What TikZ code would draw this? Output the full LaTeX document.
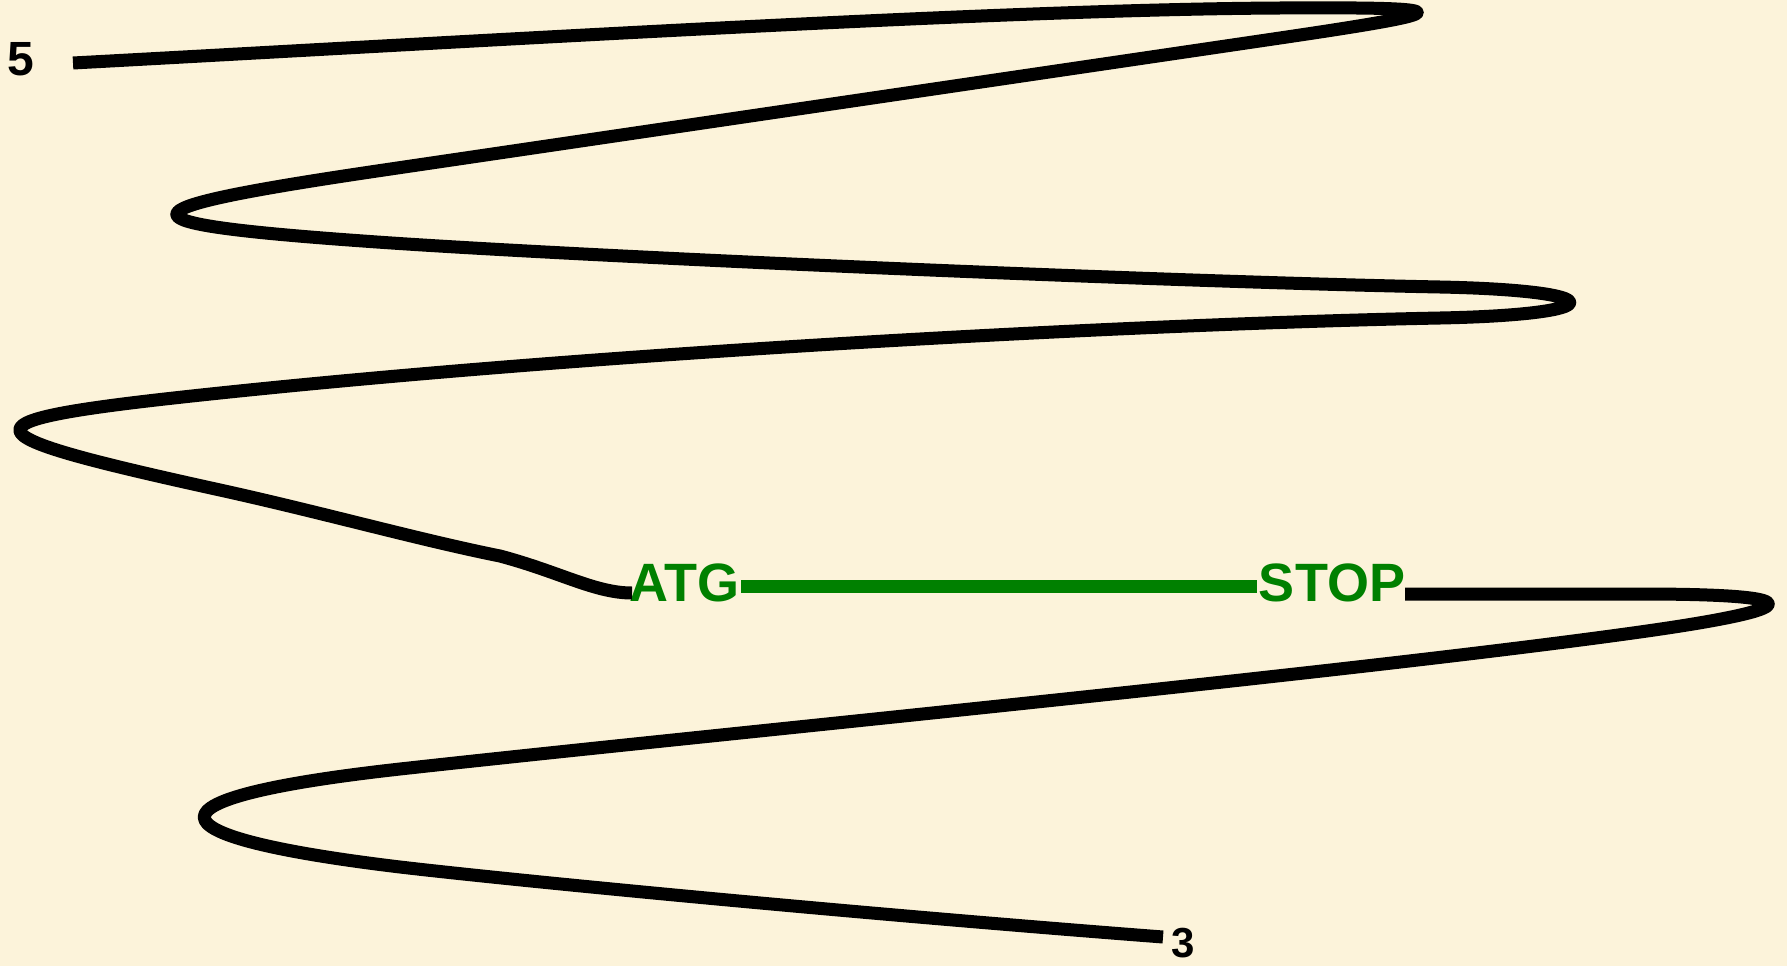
\documentclass[tikz,border=0pt]{standalone}
\usepackage{fontspec}
\setmainfont{Liberation Sans}
\definecolor{bg}{RGB}{252,243,218}
\definecolor{gene}{RGB}{0,128,0}
\begin{document}
\begin{tikzpicture}[x=1pt,y=-1pt,
  strand/.style={line width=13pt, black, line join=round},
  orf/.style={line width=13pt, gene},
  lbl/.style={font=\bfseries\fontsize{54}{54}\selectfont, inner sep=0pt},
  endlbl/.style={font=\bfseries\fontsize{48}{48}\selectfont, inner sep=0pt, text=black},
]
\fill[bg] (0,0) rectangle (1787,966);
\useasboundingbox (0,0) rectangle (1787,966);
% labels
\node[lbl, text=gene] (atg) at (684,583) {ATG};
\node[lbl, text=gene] (stop) at (1332,583) {STOP};
\node[endlbl] (five) at (21,59) {5};
\node[endlbl, font=\bfseries\fontsize{42}{42}\selectfont] (three) at (1183,943) {3};
% coding region
\draw[orf] ([xshift=2pt,yshift=-3pt]atg.east) -- ([xshift=-2pt,yshift=-3pt]stop.west);
% 5' part of the strand
\draw[strand] (73,63) .. controls (500,40) and (1000,9.5) .. (1280,8)
  .. controls (1463,7) and (1463,11) .. (1280,38)
  -- (377,171)
  .. controls (110,210.5) and (110,223.4) .. (377,242)
  .. controls (577,256) and (1140,281) .. (1440,287)
  .. controls (1613,290.5) and (1613,314.5) .. (1440,318)
  .. controls (1140,324) and (620,351) .. (220,393)
  .. controls (-47,421) and (-47,431.3) .. (220,490)
  .. controls (320,512) and (420,540) .. (500,556)
  .. controls (560,572) and (595,593) .. (632,593);
% 3' part of the strand
\draw[strand] (1405,594) -- (1640,594)
  .. controls (1811,594) and (1811,608) .. (1640,632)
  .. controls (1340,674) and (700,735.7) .. (400,769)
  .. controls (139,798) and (139,835.6) .. (400,867)
  .. controls (520,881) and (850,913) .. (1163,937);
\end{tikzpicture}
\end{document}
